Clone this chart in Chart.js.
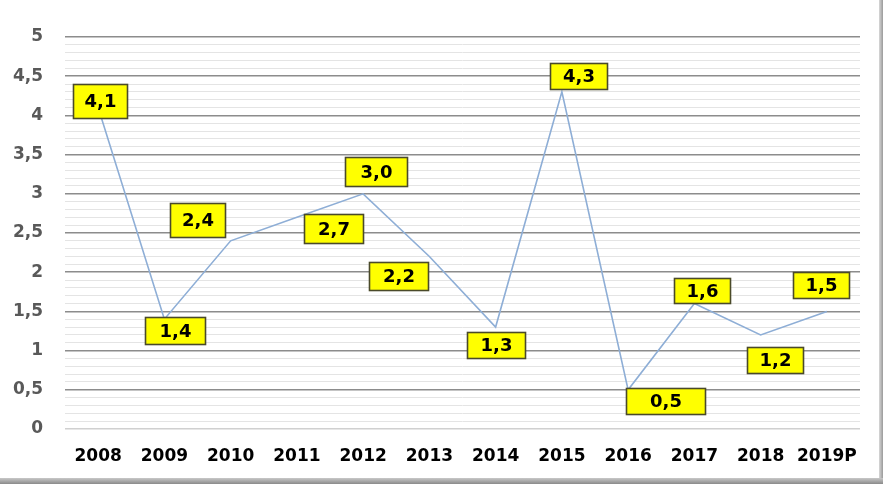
<!DOCTYPE html>
<html>
<head>
<meta charset="utf-8">
<script src="https://cdn.jsdelivr.net/npm/chart.js@4/dist/chart.umd.min.js"></script>
<style>
  html, body { margin: 0; padding: 0; background: #ffffff; }
  #wrap { position: relative; width: 883px; height: 484px; overflow: hidden; background: #fff; }
  #c { position: absolute; left: 0; top: 0; }
  #frameR { position: absolute; left: 879px; top: 0; width: 4px; height: 484px; background: linear-gradient(to right, #d8d8d8, #9a9a9a); }
  #frameB { position: absolute; left: 0; top: 478px; width: 883px; height: 6px; background: linear-gradient(to bottom, #c8c8c8, #8a8a8a); }
</style>
</head>
<body>
<div id="wrap">
  <canvas id="c" width="883" height="484"></canvas>
  <div id="frameR"></div>
  <div id="frameB"></div>
</div>
<script>
// ---- data ----
const categories = ['2008','2009','2010','2011','2012','2013','2014','2015','2016','2017','2018','2019P'];
const values = [4.1, 1.4, 2.4, 2.7, 3.0, 2.2, 1.3, 4.3, 0.5, 1.6, 1.2, 1.5];
const valueLabels = ['4,1','1,4','2,4','2,7','3,0','2,2','1,3','4,3','0,5','1,6','1,2','1,5'];
const yTickLabels = ['0','0,5','1','1,5','2','2,5','3','3,5','4','4,5','5'];

// label box placement (pixel offsets of box centre from the point, box size)
const labelBoxes = [
  {dx: 2, dy: -7, w: 54, h: 34},
  {dx: 11, dy: 11, w: 60, h: 27},
  {dx: -33, dy: -21, w: 55, h: 34},
  {dx: 37, dy: 11, w: 59, h: 29},
  {dx: 13, dy: -22, w: 62, h: 29},
  {dx: -31, dy: 19, w: 59, h: 28},
  {dx: 0, dy: 18, w: 58, h: 26},
  {dx: 17, dy: -16, w: 57, h: 26},
  {dx: 37, dy: 11, w: 79, h: 26},
  {dx: 8, dy: -13, w: 56, h: 25},
  {dx: 14, dy: 25, w: 56, h: 26},
  {dx: -6, dy: -26, w: 56, h: 26}
];

const boxPlugin = {
  id: 'boxLabels',
  afterDatasetsDraw(chart) {
    const ctx = chart.ctx;
    const meta = chart.getDatasetMeta(0);
    ctx.save();
    meta.data.forEach((pt, i) => {
      const b = labelBoxes[i];
      const cx = pt.x + b.dx, cy = pt.y + b.dy;
      const x = Math.round(cx - b.w / 2) + 0.5, y = Math.round(cy - b.h / 2) + 0.5;
      ctx.fillStyle = '#ffff00';
      ctx.fillRect(x, y, b.w, b.h);
      ctx.strokeStyle = '#4a4a2a';
      ctx.lineWidth = 1.6;
      ctx.strokeRect(x, y, b.w, b.h);
      ctx.fillStyle = '#000000';
      ctx.font = 'bold 18px "DejaVu Sans", Verdana, sans-serif';
      ctx.textAlign = 'center';
      ctx.textBaseline = 'middle';
      ctx.fillText(valueLabels[i], x + b.w / 2, y + b.h / 2 + 1);
    });
    ctx.restore();
  }
};

function isMajor(v) { return Math.round(v * 10) % 5 === 0; }

new Chart(document.getElementById('c'), {
  type: 'line',
  data: {
    labels: categories,
    datasets: [{
      data: values,
      borderColor: '#8eaed6',
      borderWidth: 1.6,
      pointRadius: 0,
      tension: 0,
      fill: false
    }]
  },
  options: {
    responsive: false,
    animation: false,
    layout: { padding: { top: 37, right: 23, left: 0, bottom: 0 } },
    plugins: { legend: { display: false }, tooltip: { enabled: false } },
    scales: {
      x: {
        offset: true,
        grid: { display: false, drawTicks: false },
        border: { display: false },
        ticks: {
          color: '#000000',
          padding: 17,
          font: { family: '"DejaVu Sans", Verdana, sans-serif', weight: 'bold', size: 17 },
          maxRotation: 0
        },
        afterFit(s) { s.height = 55; }
      },
      y: {
        min: 0, max: 5,
        border: { display: false },
        grid: {
          drawTicks: false,
          color(ctx) {
            const v = ctx.tick.value;
            if (Math.abs(v) < 1e-6) return '#d0d0d0';
            return isMajor(v) ? '#8c8c8c' : '#e4e4e4';
          },
          lineWidth(ctx) {
            const v = ctx.tick.value;
            if (Math.abs(v) < 1e-6) return 1.5;
            return isMajor(v) ? 1.6 : 1;
          }
        },
        ticks: {
          stepSize: 0.1,
          autoSkip: false,
          color: '#595959',
          padding: 22,
          font: { family: '"DejaVu Sans", Verdana, sans-serif', weight: 'bold', size: 17 },
          callback(v) {
            if (!isMajor(v)) return '';
            return yTickLabels[Math.round(v * 2)];
          }
        },
        afterFit(s) { s.width = 65; }
      }
    }
  },
  plugins: [boxPlugin]
});
</script>
</body>
</html>
